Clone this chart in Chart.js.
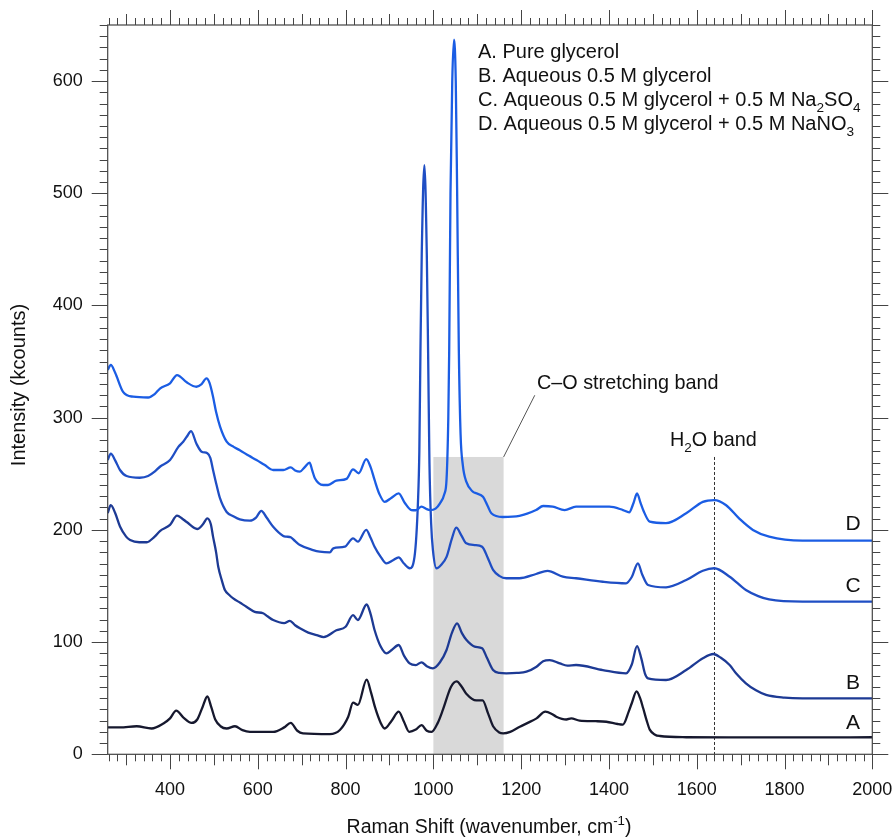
<!DOCTYPE html>
<html>
<head>
<meta charset="utf-8">
<script src="https://cdn.jsdelivr.net/npm/chart.js@4.4.1/dist/chart.umd.min.js"></script>
<style>
  body { margin: 0; background: #fff; }
  #wrap { width: 896px; height: 837px; }
</style>
</head>
<body>
<div id="wrap"><canvas id="myChart" width="896" height="837"></canvas></div>
<script>
// axis ranges and tick labels
const xMin = 258, xMax = 2000;
const yMin = 0, yMax = 650;
const xTickLabels = [400, 600, 800, 1000, 1200, 1400, 1600, 1800, 2000];
const yTickLabels = [0, 100, 200, 300, 400, 500, 600];

// A. pure glycerol
const wnA = [258,286,324,358,385,400,414,430,449,462,474,485,494,503,515,529,548,565,582,635,660,675,690,703,764,787,806,817,828,848,858,867,880,889,905,921,933,945,960,973,985,996,1010,1022,1040,1053,1065,1075,1098,1112,1125,1136,1150,1159,1175,1197,1215,1235,1255,1270,1280,1303,1314,1333,1370,1394,1420,1432,1445,1452,1463,1471,1478,1486,1493,1505,1516,1576,1700,1850,2000];
const kcA = [24,24,25,23,27.5,32,39,33,28,31,42,51.5,42,31,25,23,25,21.5,20,20,24,28,21,18.7,18,21.7,33.5,46,44,66.5,55,42,28,23,30,38,29,20,22,26,21,20,28,40,60,65,60,54,48,48,36,25,19.5,18.7,20,24.6,28,32,38,36,33.5,31,32,30,29.5,29,27,26.5,38,45.5,56,50,41,30,22,17.5,16.3,15.2,15,15,15.2];

// B. aqueous 0.5 M glycerol
const wnB = [258,265,275,286,300,309,330,347,365,377,400,416,428,438,462,475,485,493,498,505,510,518,525,535,544,560,574,593,612,622,635,660,673,685,696,715,734,750,779,800,817,828,848,857,866,880,893,905,921,933,946,960,973,985,999,1015,1030,1042,1054,1065,1075,1094,1111,1122,1136,1150,1166,1190,1212,1235,1250,1265,1288,1305,1325,1386,1439,1452,1464,1474,1482,1489,1530,1576,1614,1638,1655,1675,1690,1712,1735,1758,1800,1841,2000];
const kcB = [215,222,215,203,194,191,189,189,194,199,204.5,212.7,210,207,200.8,205,210.3,205,194,180,167,155,146.4,142,139,135,131.5,127,125.7,123,119.7,117,119,115,112.3,108.5,106.3,104.5,110.5,113.7,124,119.7,133.5,125,110.8,96,90,93,97.4,88,81,79.5,82,78.5,76.6,82,93,108,116.7,108,102,96,94.5,86,75.1,72.5,72.2,72.5,73.6,78,83,84,81,79,79.6,75.1,72.2,80,96.5,85,72,67.7,66.2,75.1,85.6,89.4,86,79.6,72,63.3,57,52.9,50.5,49.9,49.9];

// C. aqueous 0.5 M glycerol + 0.5 M Na2SO4
const wnC = [258,265,275,286,301,331,350,365,377,400,419,430,438,448,460,472,485,492,498,506,514,529,545,559,582,596,608,620,635,658,665,675,685,696,726,741,764,772,798,817,828,847,857,866,880,893,908,921,933,946,957,965,968,970.5,973.5,979.5,985,988,991,995,999,1007,1018,1030,1042,1052,1064,1075,1094,1111,1124,1136,1150,1166,1196,1234,1260,1295,1325,1386,1439,1452,1466,1476,1489,1530,1576,1614,1640,1675,1712,1740,1765,1841,2000];
const kcC = [262.3,268,262,253.4,248,246.5,248,252,256.3,262.3,274,278.6,283,288,277,269.7,268.3,264,253.4,240,228,216,212,209.4,208.2,211,217,211,202.8,194.6,194,193.4,190,186.5,182,180.6,180,183.6,185,192.5,189.5,200,193,185,176,170.2,173,175.6,170,165.8,176,226,270,358,446,525,446,358,260,205,182,165.8,169,176,192,202,195,188,186.5,185,175,164.3,159,156.9,156.9,160.7,163.5,158.3,156.9,153.8,152.4,158,170.2,160,150.9,148.8,155.3,163.6,165.8,158.3,146.4,141,138,136,136];

// D. aqueous 0.5 M glycerol + 0.5 M NaNO3
const wnD = [258,265,275,293,316,350,365,377,400,416,438,460,472,483,490,498,505,514,529,545,559,580,597,615,635,658,675,685,696,707,718,724,730,749,760,779,802,817,830,847,857,866,877,889,904,921,935,950,960,973,985,992,1005,1015,1025,1030,1034,1036,1039,1043,1047,1051,1054,1058,1062,1067,1075,1090,1098,1113,1124,1132,1158,1196,1234,1250,1272,1299,1325,1401,1432,1446,1456,1464,1472,1478,1493,1530,1576,1614,1640,1667,1697,1728,1765,1841,2000];
const kcD = [342.5,347,340,323,318.7,318,321,326,330.7,338,331.5,327.6,330,335,331,318.7,305,292,278.6,274,271,266,262.3,258,253.4,253.4,255.8,253,252,256,260,253,246,240,240,243.9,245.5,254,250.5,263,256,244.5,232,225,228.5,232.6,224,217.7,217.5,220.7,218.5,217.7,219,223.7,232,245,300,358,500,600,637,600,506,360,285,258,243,234,232.6,229.6,221,214.8,211.5,212.5,217.7,221.3,220.7,217.7,220.7,220.7,217.7,215.7,224,232.6,224,217.7,207.3,206,214.8,225,226.6,222,210,200,194,190.4,190.4];

const seriesNames = ['A. Pure glycerol', 'B. Aqueous 0.5 M glycerol',
  'C. Aqueous 0.5 M glycerol + 0.5 M Na2SO4', 'D. Aqueous 0.5 M glycerol + 0.5 M NaNO3'];
const seriesTags = ['A', 'B', 'C', 'D'];
const tagLevels = [28, 63.5, 150, 205];
const seriesColors = ['#16182e', '#1d3a94', '#1f4ec4', '#1b5de4'];

// annotation values
const coBand = [1000, 1160];
const bandTop = 265;
const coLabelAt = [1231, 320];
const h2oBand = 1640;

const font = '"Liberation Sans", Arial, sans-serif';

function pts(xs, ys) { return xs.map((x, i) => ({x: x, y: ys[i]})); }

// text with subscripts / superscripts: parts = [[text, 0|1|-1], ...]
function richText(ctx, parts, x, y, size, align) {
  let w = 0;
  parts.forEach(p => {
    ctx.font = (p[1] ? size * 0.68 : size) + 'px ' + font;
    w += ctx.measureText(p[0]).width;
  });
  let cx = align === 'center' ? x - w / 2 : x;
  parts.forEach(p => {
    ctx.font = (p[1] ? size * 0.68 : size) + 'px ' + font;
    const dy = p[1] === 1 ? size * 0.28 : p[1] === -1 ? -size * 0.42 : 0;
    ctx.fillText(p[0], cx, y + dy);
    cx += ctx.measureText(p[0]).width;
  });
}

const decor = {
  id: 'decor',
  beforeDatasetsDraw(chart) {
    const ctx = chart.ctx, xs = chart.scales.x, ys = chart.scales.y;
    const x0 = xs.getPixelForValue(coBand[0]), x1 = xs.getPixelForValue(coBand[1]);
    const yt = ys.getPixelForValue(bandTop), yb = ys.getPixelForValue(0);
    ctx.save();
    ctx.fillStyle = '#d9d9d9';
    ctx.fillRect(x0, yt, x1 - x0, yb - yt);
    // H2O band marker
    const xh = Math.round(xs.getPixelForValue(h2oBand)) + 0.5;
    ctx.strokeStyle = '#333';
    ctx.lineWidth = 1;
    ctx.setLineDash([3, 2]);
    ctx.beginPath();
    ctx.moveTo(xh, yt);
    ctx.lineTo(xh, yb);
    ctx.stroke();
    ctx.restore();
  },
  afterDraw(chart) {
    const ctx = chart.ctx, xs = chart.scales.x, ys = chart.scales.y;
    const a = chart.chartArea;
    ctx.save();
    ctx.strokeStyle = '#444';
    ctx.lineWidth = 1.2;
    ctx.strokeRect(a.left, a.top, a.right - a.left, a.bottom - a.top);
    ctx.lineWidth = 1;
    ctx.beginPath();
    for (let v = 260; v <= xMax; v += 20) {
      const px = Math.round(xs.getPixelForValue(v)) + 0.5;
      const len = v % 200 === 0 ? 15 : (v % 100 === 0 ? 11 : 7);
      ctx.moveTo(px, a.bottom); ctx.lineTo(px, a.bottom + len);
      ctx.moveTo(px, a.top); ctx.lineTo(px, a.top - len);
    }
    for (let v = yMin; v <= yMax; v += 10) {
      const py = Math.round(ys.getPixelForValue(v)) + 0.5;
      const len = v % 100 === 0 ? 16 : 8;
      ctx.moveTo(a.left, py); ctx.lineTo(a.left - len, py);
      ctx.moveTo(a.right, py); ctx.lineTo(a.right + len, py);
    }
    ctx.stroke();

    // leader line to C-O label
    ctx.strokeStyle = '#555';
    ctx.beginPath();
    ctx.moveTo(xs.getPixelForValue(coBand[1]), ys.getPixelForValue(bandTop));
    ctx.lineTo(xs.getPixelForValue(coLabelAt[0]), ys.getPixelForValue(coLabelAt[1]));
    ctx.stroke();

    ctx.fillStyle = '#111';
    ctx.textBaseline = 'alphabetic';
    ctx.textAlign = 'left';
    // sample list
    const lines = [
      [[seriesNames[0], 0]],
      [[seriesNames[1], 0]],
      [['C. Aqueous 0.5 M glycerol + 0.5 M Na', 0], ['2', 1], ['SO', 0], ['4', 1]],
      [['D. Aqueous 0.5 M glycerol + 0.5 M NaNO', 0], ['3', 1]]
    ];
    lines.forEach((l, i) => richText(ctx, l, 478, 57.5 + i * 24.3, 20, 'left'));

    richText(ctx, [['C\u2013O stretching band', 0]], 537, 389, 19.8, 'left');
    richText(ctx, [['H', 0], ['2', 1], ['O band', 0]], 670, 446, 19.8, 'left');

    // curve tags at the right end
    ctx.textAlign = 'center';
    ctx.textBaseline = 'middle';
    ctx.font = '21px ' + font;
    seriesTags.forEach((t, i) => {
      ctx.fillText(t, 853, ys.getPixelForValue(tagLevels[i]));
    });

    // axis titles
    ctx.textBaseline = 'alphabetic';
    ctx.textAlign = 'left';
    richText(ctx, [['Raman Shift (wavenumber, cm', 0], ['-1', -1], [')', 0]], 489, 833, 19.5, 'center');
    ctx.translate(25, 385);
    ctx.rotate(-Math.PI / 2);
    richText(ctx, [['Intensity (kcounts)', 0]], 0, 0, 20, 'center');
    ctx.restore();
  }
};

const ctx = document.getElementById('myChart').getContext('2d');
const sets = [[wnA, kcA], [wnB, kcB], [wnC, kcC], [wnD, kcD]];
const hiddenTicks = { display: true, drawOnChartArea: false, drawTicks: true, tickColor: 'rgba(0,0,0,0)' };

new Chart(ctx, {
  type: 'line',
  data: {
    datasets: sets.map((s, i) => ({
      label: seriesNames[i],
      data: pts(s[0], s[1]),
      borderColor: seriesColors[i],
      borderWidth: 2.3,
      pointRadius: 0,
      fill: false,
      cubicInterpolationMode: 'monotone'
    })).reverse()
  },
  options: {
    responsive: false,
    animation: false,
    layout: { padding: { top: 25, right: 23.7, left: 0, bottom: 0 } },
    plugins: { legend: { display: false }, tooltip: { enabled: false } },
    scales: {
      x: {
        type: 'linear', position: 'bottom', min: xMin, max: xMax,
        grid: Object.assign({ tickLength: 25 }, hiddenTicks), border: { display: false },
        afterBuildTicks: s => { s.ticks = xTickLabels.map(v => ({value: v})); },
        afterFit: s => { s.height = 82.7; },
        ticks: { padding: 0, color: '#111', font: { family: font, size: 18 }, maxRotation: 0,
          callback: v => String(v) }
      },
      y: {
        type: 'linear', position: 'left', min: yMin, max: yMax,
        grid: Object.assign({ tickLength: 25 }, hiddenTicks), border: { display: false },
        afterBuildTicks: s => { s.ticks = yTickLabels.map(v => ({value: v})); },
        afterFit: s => { s.width = 107.7; },
        ticks: { padding: 0, color: '#111', font: { family: font, size: 18 },
          callback: v => String(v) }
      }
    }
  },
  plugins: [decor]
});
</script>
</body>
</html>
